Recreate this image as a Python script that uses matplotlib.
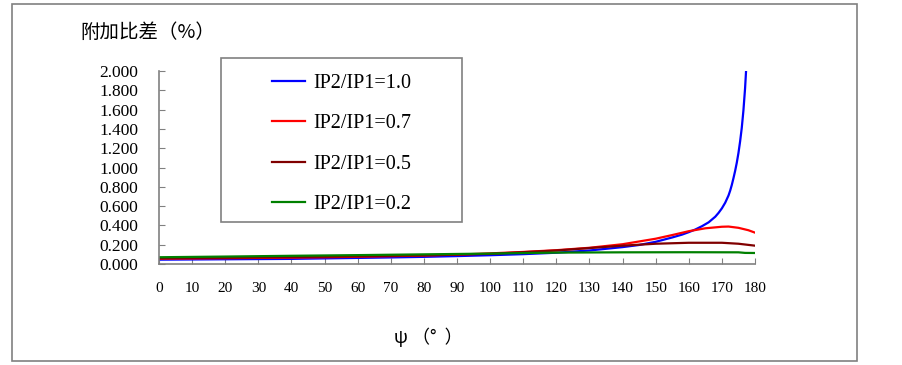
import matplotlib
matplotlib.use('Agg')
import matplotlib.pyplot as plt
from matplotlib.patches import Rectangle

# angle psi (deg) and additional ratio error (%)
psi_10 = [0, 10, 20, 30, 40, 50, 60, 70, 80, 90, 100, 110, 120, 130, 140, 145, 150, 155,
          158, 160, 162, 164, 166, 168, 169, 170, 171, 172, 172.5, 173, 173.5, 174, 174.5,
          175, 175.5, 176, 176.5, 177, 177.3]
err_10 = [0.045, 0.047, 0.049, 0.051, 0.053, 0.058, 0.063, 0.068, 0.074, 0.082, 0.091, 0.102,
          0.117, 0.140, 0.175, 0.197, 0.230, 0.275, 0.305, 0.330, 0.358, 0.392, 0.432, 0.490,
          0.530, 0.577, 0.635, 0.710, 0.760, 0.820, 0.890, 0.965, 1.050, 1.150, 1.270,
          1.410, 1.590, 1.820, 2.000]

psi_07 = [0, 10, 20, 30, 40, 50, 60, 70, 80, 90, 100, 110, 120, 130, 140, 150, 155, 160,
          165, 170, 172, 175, 178, 180]
err_07 = [0.055, 0.057, 0.060, 0.063, 0.066, 0.070, 0.075, 0.081, 0.088, 0.097, 0.110, 0.125,
          0.143, 0.168, 0.205, 0.262, 0.300, 0.340, 0.370, 0.386, 0.388, 0.375, 0.350, 0.325]

psi_05 = [0, 20, 40, 60, 80, 100, 120, 130, 140, 150, 160, 170, 175, 180]
err_05 = [0.060, 0.065, 0.072, 0.080, 0.090, 0.105, 0.140, 0.165, 0.190, 0.210, 0.220, 0.220,
          0.210, 0.190]

psi_02 = [0, 20, 40, 60, 80, 100, 120, 140, 160, 175, 177, 180]
err_02 = [0.070, 0.077, 0.085, 0.092, 0.100, 0.108, 0.118, 0.121, 0.122, 0.121, 0.115, 0.114]

labels = ['IP2/IP1=1.0', 'IP2/IP1=0.7', 'IP2/IP1=0.5', 'IP2/IP1=0.2']
colors = ['#0000FF', '#FF0000', '#800000', '#008000']

W, H = 903, 365
fig = plt.figure(figsize=(W / 100, H / 100), dpi=100)
ax = fig.add_axes([159 / W, 1 - 264 / H, (755 - 159) / W, (264 - 71) / H])

series = [(psi_10, err_10), (psi_07, err_07), (psi_05, err_05), (psi_02, err_02)]
for (x, y), lab, c in zip(series, labels, colors):
    ax.plot(x, y, color=c, lw=1.6, label=lab)

ax.set_xlim(0, 180)
ax.set_ylim(0, 2.0)
ax.set_xticks(range(0, 181, 10))
ax.set_yticks([i * 0.2 for i in range(11)])
ax.set_yticklabels(['%.3f' % (i * 0.2) for i in range(11)])

for s in ['top', 'right']:
    ax.spines[s].set_visible(False)
for s in ['left', 'bottom']:
    ax.spines[s].set_color('#808080')
    ax.spines[s].set_linewidth(1.2)

ax.tick_params(axis='x', direction='in', length=4, color='#808080', pad=13)
ax.tick_params(axis='y', direction='in', length=4, color='#808080', pad=15)
for t in ax.get_xticklabels():
    t.set_family(['Liberation Serif'])
    t.set_fontsize(11)
for t in ax.get_yticklabels():
    t.set_family(['Liberation Serif'])
    t.set_fontsize(12.5)

# titles
fig.text(80 / W, 1 - 32 / H, '附加比差（%）', fontsize=14, va='center', ha='left',
         family=['Noto Sans CJK SC', 'DejaVu Sans'])
fig.text(428 / W, 1 - 337 / H, 'ψ （°  ）', fontsize=13, va='center', ha='center',
         family=['Noto Sans CJK SC', 'DejaVu Sans'])

# legend with its own box
leg = ax.legend(loc='center', bbox_to_anchor=(341.5 / W, 1 - 144 / H),
                bbox_transform=fig.transFigure, frameon=False, borderpad=0,
                labelspacing=1.05, handlelength=1.65, handletextpad=0.4,
                prop={'family': 'Liberation Serif', 'size': 14.5})
fig.add_artist(Rectangle((221 / W, 1 - 222 / H), 241 / W, 164 / H, transform=fig.transFigure,
                         fill=False, edgecolor='#808080', lw=1.2))

# outer frame
fig.add_artist(Rectangle((12 / W, 1 - 361 / H), 845 / W, 357 / H, transform=fig.transFigure,
                         fill=False, edgecolor='#808080', lw=1.2))

fig.savefig('out.png', dpi=100)
